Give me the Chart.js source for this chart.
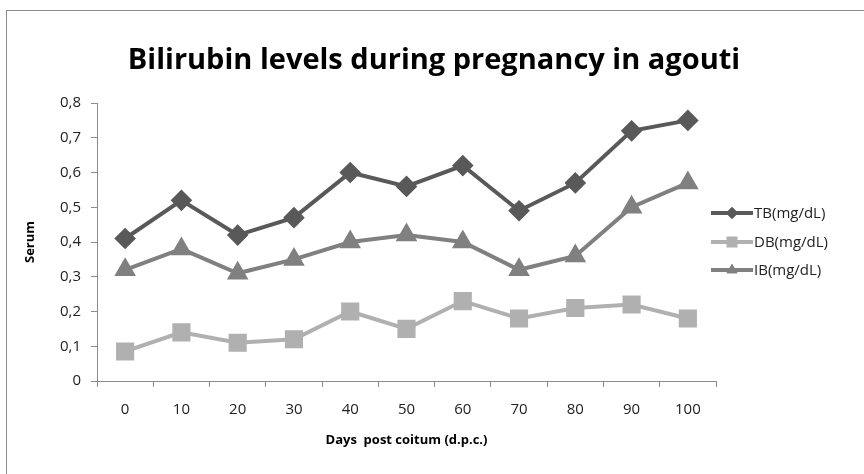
<!DOCTYPE html>
<html>
<head>
<meta charset="utf-8">
<script src="https://cdn.jsdelivr.net/npm/chart.js@4/dist/chart.umd.min.js"></script>
<style>
  html, body { margin: 0; padding: 0; background: #fff; }
  #wrap { position: relative; width: 864px; height: 474px; overflow: hidden; }
  #frame { position: absolute; left: 6px; top: 10px; right: -2px; bottom: -2px;
           border-top: 1px solid #8c8c8c; border-left: 1px solid #8c8c8c; }
  #title { position: absolute; left: 2px; top: 40px; width: 864px; text-align: center;
           font: bold 29px 'Open Sans', 'Liberation Sans', sans-serif; line-height: 36px; color: #000; }
  canvas { position: absolute; left: 0; top: 0; }
</style>
</head>
<body>
<div id="wrap">
  <div id="frame"></div>
  <canvas id="bili" width="864" height="474"></canvas>
  <div id="title">Bilirubin levels during pregnancy in agouti</div>
</div>
<script>
// days post coitum
const days = ["0", "10", "20", "30", "40", "50", "60", "70", "80", "90", "100"];
const tb = [0.41, 0.52, 0.42, 0.47, 0.60, 0.56, 0.62, 0.49, 0.57, 0.72, 0.75];
const db = [0.085, 0.14, 0.11, 0.12, 0.20, 0.15, 0.23, 0.18, 0.21, 0.22, 0.18];
const ib = [0.32, 0.38, 0.31, 0.35, 0.40, 0.42, 0.40, 0.32, 0.36, 0.50, 0.57];
const yTicks = [0, 0.1, 0.2, 0.3, 0.4, 0.5, 0.6, 0.7, 0.8];

const font = "'Open Sans', 'Liberation Sans', sans-serif";

// legend drawn by hand: line with the marker in the middle, like excel
const sideLegend = {
    id: "sideLegend",
    afterDraw(chart) {
        const ctx = chart.ctx;
        const x0 = 711, x1 = 753;
        const ys = [213, 242, 270];
        chart.data.datasets.forEach((ds, i) => {
            const y = ys[i];
            ctx.save();
            ctx.strokeStyle = ds.borderColor;
            ctx.lineWidth = ds.borderWidth;
            ctx.beginPath();
            ctx.moveTo(x0, y);
            ctx.lineTo(x1, y);
            ctx.stroke();
            ctx.fillStyle = ds.pointBackgroundColor;
            Chart.helpers.drawPoint(ctx, {
                pointStyle: ds.pointStyle,
                radius: ds.pointRadius * 0.75,
                rotation: 0
            }, (x0 + x1) / 2, y);
            ctx.fill();
            ctx.fillStyle = "#222";
            ctx.font = "15px " + font;
            ctx.textBaseline = "middle";
            ctx.fillText(ds.label, x1 + 1, y + 1);
            ctx.restore();
        });
    }
};

new Chart(document.getElementById("bili"), {
    type: "line",
    data: {
        labels: days,
        datasets: [
            { label: "TB(mg/dL)", data: tb, borderColor: "#595959", pointBackgroundColor: "#595959",
              pointBorderColor: "#595959", pointStyle: "rectRot", pointRadius: 8, borderWidth: 4 },
            { label: "DB(mg/dL)", data: db, borderColor: "#b0b0b0", pointBackgroundColor: "#b0b0b0",
              pointBorderColor: "#b0b0b0", pointStyle: "rect", pointRadius: 10, borderWidth: 4 },
            { label: "IB(mg/dL)", data: ib, borderColor: "#808080", pointBackgroundColor: "#808080",
              pointBorderColor: "#808080", pointStyle: "triangle", pointRadius: 8.5, borderWidth: 4 }
        ]
    },
    options: {
        responsive: false,
        animation: false,
        layout: { padding: { left: 18, right: 148, top: 103, bottom: 22 } },
        plugins: {
            legend: { display: false },
            tooltip: { enabled: false },
            title: { display: false }
        },
        scales: {
            x: {
                offset: true,
                grid: { display: true, drawOnChartArea: false, drawTicks: true, tickLength: 6,
                        offset: true, color: "#8c8c8c" },
                border: { color: "#8c8c8c", width: 1 },
                ticks: { color: "#222", font: { family: font, size: 15 }, padding: 14, maxRotation: 0 },
                title: { display: true, text: "Days  post coitum (d.p.c.)", color: "#000",
                         font: { family: font, size: 13, weight: "bold" }, padding: { top: 8 } },
                afterFit(s) { s.height = 71; }
            },
            y: {
                min: 0,
                max: 0.8,
                afterBuildTicks(s) { s.ticks = yTicks.map(v => ({ value: v })); },
                grid: { display: true, drawOnChartArea: false, drawTicks: true, tickLength: 6,
                        color: "#8c8c8c" },
                border: { color: "#8c8c8c", width: 1 },
                ticks: {
                    color: "#222",
                    font: { family: font, size: 15 },
                    padding: 10,
                    callback: v => v === 0 ? "0" : v.toFixed(1).replace(".", ",")
                },
                title: { display: true, text: "Serum", color: "#000",
                         font: { family: font, size: 13, weight: "bold" }, padding: { bottom: 8 } },
                afterFit(s) { s.width = 79; }
            }
        }
    },
    plugins: [sideLegend]
});
</script>
</body>
</html>
